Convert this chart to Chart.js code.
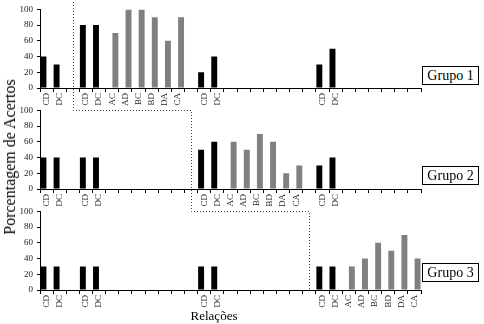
<!DOCTYPE html>
<html>
<head>
<meta charset="utf-8">
<script src="https://cdn.jsdelivr.net/npm/chart.js@4"></script>
<style>
    body { margin:0; background:#fff; }
    #wrap { position:relative; width:484px; height:324px; overflow:hidden; background:#fff; font-family:"Liberation Serif", serif; }
    canvas { position:absolute; left:0; }
    .grupo { position:absolute; left:422px; width:55px; height:17px; border:1px solid #000; font-size:14px; line-height:17px; text-align:center; background:#fff; }
    #ytitle { position:absolute; left:10px; top:157px; transform:translate(-50%,-50%) rotate(-90deg); white-space:nowrap; font-size:16px; }
    #xtitle { position:absolute; left:214px; top:308px; transform:translateX(-50%); white-space:nowrap; font-size:13px; }
</style>
</head>
<body>
<div id="wrap">
    <canvas id="c1" width="484" height="110" style="top:0px"></canvas>
    <canvas id="c2" width="484" height="110" style="top:101px"></canvas>
    <canvas id="c3" width="484" height="110" style="top:202px"></canvas>
    <canvas id="ov" width="484" height="324" style="top:0px"></canvas>
    <div class="grupo" style="top:66px">Grupo 1</div>
    <div class="grupo" style="top:166px">Grupo 2</div>
    <div class="grupo" style="top:263px">Grupo 3</div>
    <div id="ytitle">Porcentagem de Acertos</div>
    <div id="xtitle">Relações</div>
</div>
<script>
// ======================================================
// Data
// ======================================================

const yTicks = [0, 20, 40, 60, 80, 100];

const labels1 = ["CD","DC","","CD","DC","AC","AD","BC","BD","DA","CA","","CD","DC","","","","","","","","CD","DC","","","","","",""];
const labels2 = ["CD","DC","","CD","DC","","","","","","","","CD","DC","AC","AD","BC","BD","DA","CA","","CD","DC","","","","","",""];
const labels3 = ["CD","DC","","CD","DC","","","","","","","","CD","DC","","","","","","","","CD","DC","AC","AD","BC","BD","DA","CA"];

const black1 = [40,30,null,80,80,null,null,null,null,null,null,null,20,40,null,null,null,null,null,null,null,30,50,null,null,null,null,null,null];
const gray1  = [null,null,null,null,null,70,100,100,90,60,90,null,null,null,null,null,null,null,null,null,null,null,null,null,null,null,null,null,null];

const black2 = [40,40,null,40,40,null,null,null,null,null,null,null,50,60,null,null,null,null,null,null,null,30,40,null,null,null,null,null,null];
const gray2  = [null,null,null,null,null,null,null,null,null,null,null,null,null,null,60,50,70,60,20,30,null,null,null,null,null,null,null,null,null];

const black3 = [30,30,null,30,30,null,null,null,null,null,null,null,30,30,null,null,null,null,null,null,null,30,30,null,null,null,null,null,null];
const gray3  = [null,null,null,null,null,null,null,null,null,null,null,null,null,null,null,null,null,null,null,null,null,null,null,30,40,60,50,70,40];

// categories where the dotted border crosses
const stepCats = [2, 11, 20];

// ======================================================
// Panels
// ======================================================

const serif = "'Liberation Serif', serif";

function makePanel(id, labels, black, gray) {

    return new Chart(document.getElementById(id), {

        type:"bar",

        data:{
            labels:labels,
            datasets:[
                { data:black, backgroundColor:"#000", categoryPercentage:0.95, barPercentage:0.95 },
                { data:gray, backgroundColor:"#808080", categoryPercentage:0.95, barPercentage:0.95 }
            ]
        },

        options:{
            responsive:false,
            animation:false,
            devicePixelRatio:1,
            layout:{ padding:{ top:8, right:63, left:0, bottom:0 } },
            plugins:{ legend:{ display:false }, tooltip:{ enabled:false } },
            scales:{
                x:{
                    grid:{ offset:true, drawOnChartArea:false, color:"#000", tickLength:4 },
                    border:{ color:"#000" },
                    ticks:{ autoSkip:false, maxRotation:90, minRotation:90, padding:1, color:"#222", font:{ family:serif, size:9 } },
                    afterFit:s => { s.height = 22; }
                },
                y:{
                    min:0,
                    max:100,
                    afterBuildTicks:s => { s.ticks = yTicks.map(v => ({ value:v })); },
                    grid:{ drawOnChartArea:false, color:"#000", tickLength:3 },
                    border:{ color:"#000" },
                    ticks:{ padding:4, color:"#222", font:{ family:serif, size:9 } },
                    afterFit:s => { s.width = 40; }
                }
            }
        }
    });
}

const ch1 = makePanel("c1", labels1, black1, gray1);
const ch2 = makePanel("c2", labels2, black2, gray2);
const ch3 = makePanel("c3", labels3, black3, gray3);

// ======================================================
// Dotted border between the groups
// ======================================================

const top2 = 101, top3 = 202;
const xa = ch1.scales.x.getPixelForValue(stepCats[0]);
const xb = ch2.scales.x.getPixelForValue(stepCats[1]);
const xc = ch3.scales.x.getPixelForValue(stepCats[2]);
const y2top = top2 + ch2.scales.y.getPixelForValue(100);
const y3top = top3 + ch3.scales.y.getPixelForValue(100);
const y3bot = top3 + ch3.scales.y.getPixelForValue(0);

const ctx = document.getElementById("ov").getContext("2d");
ctx.strokeStyle = "#444";
ctx.lineWidth = 1;
ctx.setLineDash([1, 2]);
ctx.beginPath();
ctx.moveTo(Math.round(xa) + 0.5, 2);
ctx.lineTo(Math.round(xa) + 0.5, Math.round(y2top) + 0.5);
ctx.lineTo(Math.round(xb) + 0.5, Math.round(y2top) + 0.5);
ctx.lineTo(Math.round(xb) + 0.5, Math.round(y3top) + 0.5);
ctx.lineTo(Math.round(xc) + 0.5, Math.round(y3top) + 0.5);
ctx.lineTo(Math.round(xc) + 0.5, Math.round(y3bot));
ctx.stroke();
</script>
</body>
</html>
